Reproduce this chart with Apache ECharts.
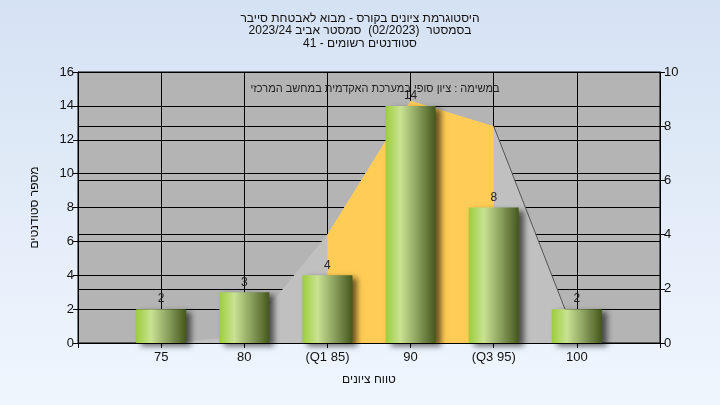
<!DOCTYPE html>
<html>
<head>
<meta charset="utf-8">
<script src="https://cdn.jsdelivr.net/npm/echarts@6/dist/echarts.min.js"></script>
<style>
html,body{margin:0;padding:0;}
#c{width:720px;height:405px;}
</style>
</head>
<body>
<div id="c"></div>
<script>
// ---- data ----
var titleLines = [
  'היסטוגרמת ציונים בקורס - מבוא לאבטחת סייבר',
  'בסמסטר  (02/2023)  סמסטר אביב 2023/24',
  'סטודנטים רשומים - 41'
];
var innerTitle = 'במשימה : ציון סופי במערכת האקדמית במחשב המרכזי';
var xAxisName = 'טווח ציונים';
var yAxisName = 'מספר סטודנטים';
var categories = ['', '75', '80', '(Q1 85)', '90', '(Q3 95)', '100', ''];
var counts = [null, 2, 3, 4, 14, 8, 2, null];
var curveAll = [null, 0, 0.4, 6.4, 14.3, 12.8, 0.2, null];
var curveIQR = [null, null, null, 6.4, 14.3, 12.8, null, null];
var curveTail = [null, null, null, null, null, 12.8, 0.2, null];

var FONT = '"Liberation Sans", Arial, sans-serif';
var chart = echarts.init(document.getElementById('c'), null, {renderer: 'canvas'});
chart.setOption({
  animation: false,
  backgroundColor: {type: 'linear', x: 0, y: 0, x2: 0, y2: 1,
    colorStops: [{offset: 0, color: '#D5E2F3'}, {offset: 1, color: '#F0F6FE'}]},
  textStyle: {fontFamily: FONT},
  title: [{
    text: titleLines.join('\n'),
    left: 'center', top: 7,
    textStyle: {fontSize: 12, fontWeight: 'normal', color: '#111', lineHeight: 12.5, fontFamily: FONT}
  }, {
    text: innerTitle,
    left: 370, top: 78, textAlign: 'center',
    textStyle: {fontSize: 11, fontWeight: 'normal', color: '#222', fontFamily: FONT}
  }],
  grid: {left: 78, right: 60, top: 72, bottom: 62, show: true,
    backgroundColor: '#B4B4B4', borderColor: '#000', borderWidth: 1},
  xAxis: {
    type: 'category', data: categories, boundaryGap: false,
    name: xAxisName, nameLocation: 'middle', nameGap: 31,
    nameTextStyle: {fontSize: 12, color: '#111', fontFamily: FONT},
    axisLine: {lineStyle: {color: '#000'}},
    axisTick: {show: true, length: 5, alignWithLabel: true, lineStyle: {color: '#000'}},
    axisLabel: {fontSize: 13, color: '#111', margin: 8, interval: 0},
    splitLine: {show: true, lineStyle: {color: '#000', width: 1}}
  },
  yAxis: [{
    type: 'value', min: 0, max: 16, interval: 2, position: 'left',
    name: yAxisName, nameLocation: 'middle', nameGap: 37,
    nameTextStyle: {fontSize: 12, color: '#111', fontFamily: FONT},
    axisLine: {show: true, lineStyle: {color: '#000'}},
    axisTick: {show: true, length: 5, lineStyle: {color: '#000'}},
    axisLabel: {fontSize: 13, color: '#111', margin: 4},
    splitLine: {show: true, lineStyle: {color: '#000', width: 1}}
  }, {
    type: 'value', min: 0, max: 10, interval: 2, position: 'right',
    axisLine: {show: true, lineStyle: {color: '#000'}},
    axisTick: {show: true, length: 5, lineStyle: {color: '#000'}},
    axisLabel: {fontSize: 13, color: '#111', margin: 4},
    splitLine: {show: true, lineStyle: {color: '#000', width: 1}}
  }],
  series: [{
    type: 'line', data: curveAll, yAxisIndex: 0, symbol: 'none', z: 1,
    lineStyle: {width: 0, opacity: 0},
    areaStyle: {color: '#C0C0C0', opacity: 1}
  }, {
    type: 'line', data: curveIQR, yAxisIndex: 0, symbol: 'none', z: 1,
    lineStyle: {width: 0, opacity: 0},
    areaStyle: {color: '#FFCC55', opacity: 1}
  }, {
    type: 'line', data: curveTail, yAxisIndex: 0, symbol: 'none', z: 1,
    lineStyle: {width: 1, color: '#555'}
  }, {
    type: 'bar', data: counts, yAxisIndex: 0, barWidth: 50, z: 5,
    itemStyle: {
      color: {type: 'linear', x: 0, y: 0, x2: 1, y2: 0, colorStops: [
        {offset: 0, color: '#9CCD3C'},
        {offset: 0.3, color: '#C9E292'},
        {offset: 0.65, color: '#889E5C'},
        {offset: 1, color: '#44581C'}]},
      shadowColor: 'rgba(0,0,0,0.6)', shadowBlur: 6, shadowOffsetX: 5, shadowOffsetY: 3
    },
    label: {show: true, position: 'top', distance: 4, fontSize: 12, color: '#222'}
  }]
});
</script>
</body>
</html>
